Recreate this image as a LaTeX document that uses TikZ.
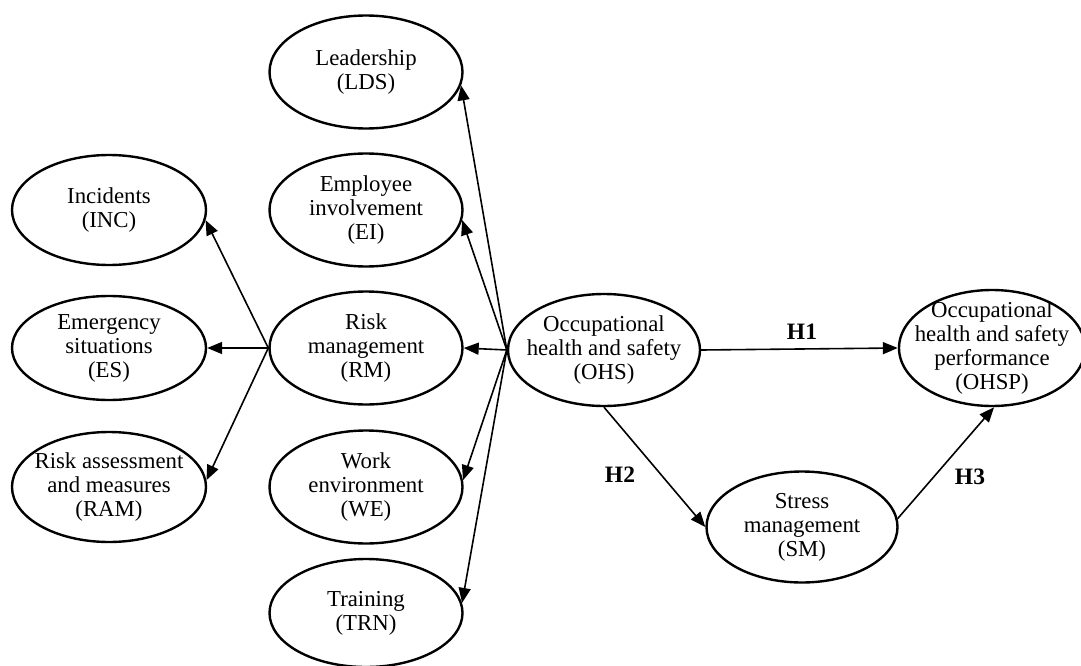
\documentclass[tikz,border=0pt]{standalone}
\usepackage{fontspec}
\setmainfont{Liberation Serif}
\usetikzlibrary{shapes.geometric,arrows.meta}
\begin{document}
\begin{tikzpicture}[x=1pt,y=-1pt,
  ell/.style={draw, ellipse, line width=2.4pt, inner sep=0pt, minimum width=193pt, minimum height=113pt},
  txt/.style={align=center, font=\fontsize{22.8}{24}\selectfont},
  conn/.style={line width=1.6pt, -{Triangle[length=15pt,width=12pt]}},
  hlab/.style={font=\fontsize{23.5}{26}\selectfont\bfseries}]
\useasboundingbox (0,0) rectangle (1081,666);
% left column
\node[ell, minimum width=194pt, minimum height=110pt, label={[txt]center:Incidents\\(INC)}] (INC) at (109,210) {};
\node[ell, minimum width=194pt, minimum height=104pt, label={[txt]center:Emergency\\situations\\(ES)}] (ES) at (109,348) {};
\node[ell, minimum width=194pt, minimum height=110pt, label={[txt]center:Risk assessment\\and measures\\(RAM)}] (RAM) at (109,487) {};
% middle column
\node[ell, label={[txt]center:Leadership\\(LDS)}] (LDS) at (366,72) {};
\node[ell, label={[txt]center:Employee\\involvement\\(EI)}] (EI) at (366,210) {};
\node[ell, label={[txt]center:Risk\\management\\(RM)}] (RM) at (366,348) {};
\node[ell, label={[txt]center:Work\\environment\\(WE)}] (WE) at (366,487) {};
\node[ell, minimum height=108pt, label={[txt]center:Training\\(TRN)}] (TRN) at (366,613) {};
% right part
\node[ell, minimum width=192pt, minimum height=112pt, label={[txt]center:Occupational\\health and safety\\(OHS)}] (OHS) at (604,350) {};
\node[ell, minimum width=186pt, minimum height=116pt, label={[txt]center:Occupational\\health and safety\\performance\\(OHSP)}] (OHSP) at (992,348) {};
\node[ell, minimum width=191pt, minimum height=111pt, label={[txt]center:Stress\\management\\(SM)}] (SM) at (802,527) {};
% connectors from OHS
\draw[conn] (OHS.west) -- (LDS.-8);
\draw[conn] (OHS.west) -- (EI.-6);
\draw[conn] (OHS.west) -- (RM.east);
\draw[conn] (OHS.west) -- (WE.4);
\draw[conn] (OHS.west) -- (TRN.6);
% connectors from RM
\draw[conn] (RM.west) -- (INC.-6);
\draw[conn] (RM.west) -- (ES.east);
\draw[conn] (RM.west) -- (RAM.4);
% hypotheses
\draw[conn] (OHS.east) -- (OHSP.west);
\draw[conn] (OHS.south) -- (SM.west);
\draw[conn] (SM.5) -- (OHSP.-88);
\node[hlab] (H1) at (802,332) {H1};
\node[hlab] (H2) at (620,475) {H2};
\node[hlab] (H3) at (970,477) {H3};
\end{tikzpicture}
\end{document}
